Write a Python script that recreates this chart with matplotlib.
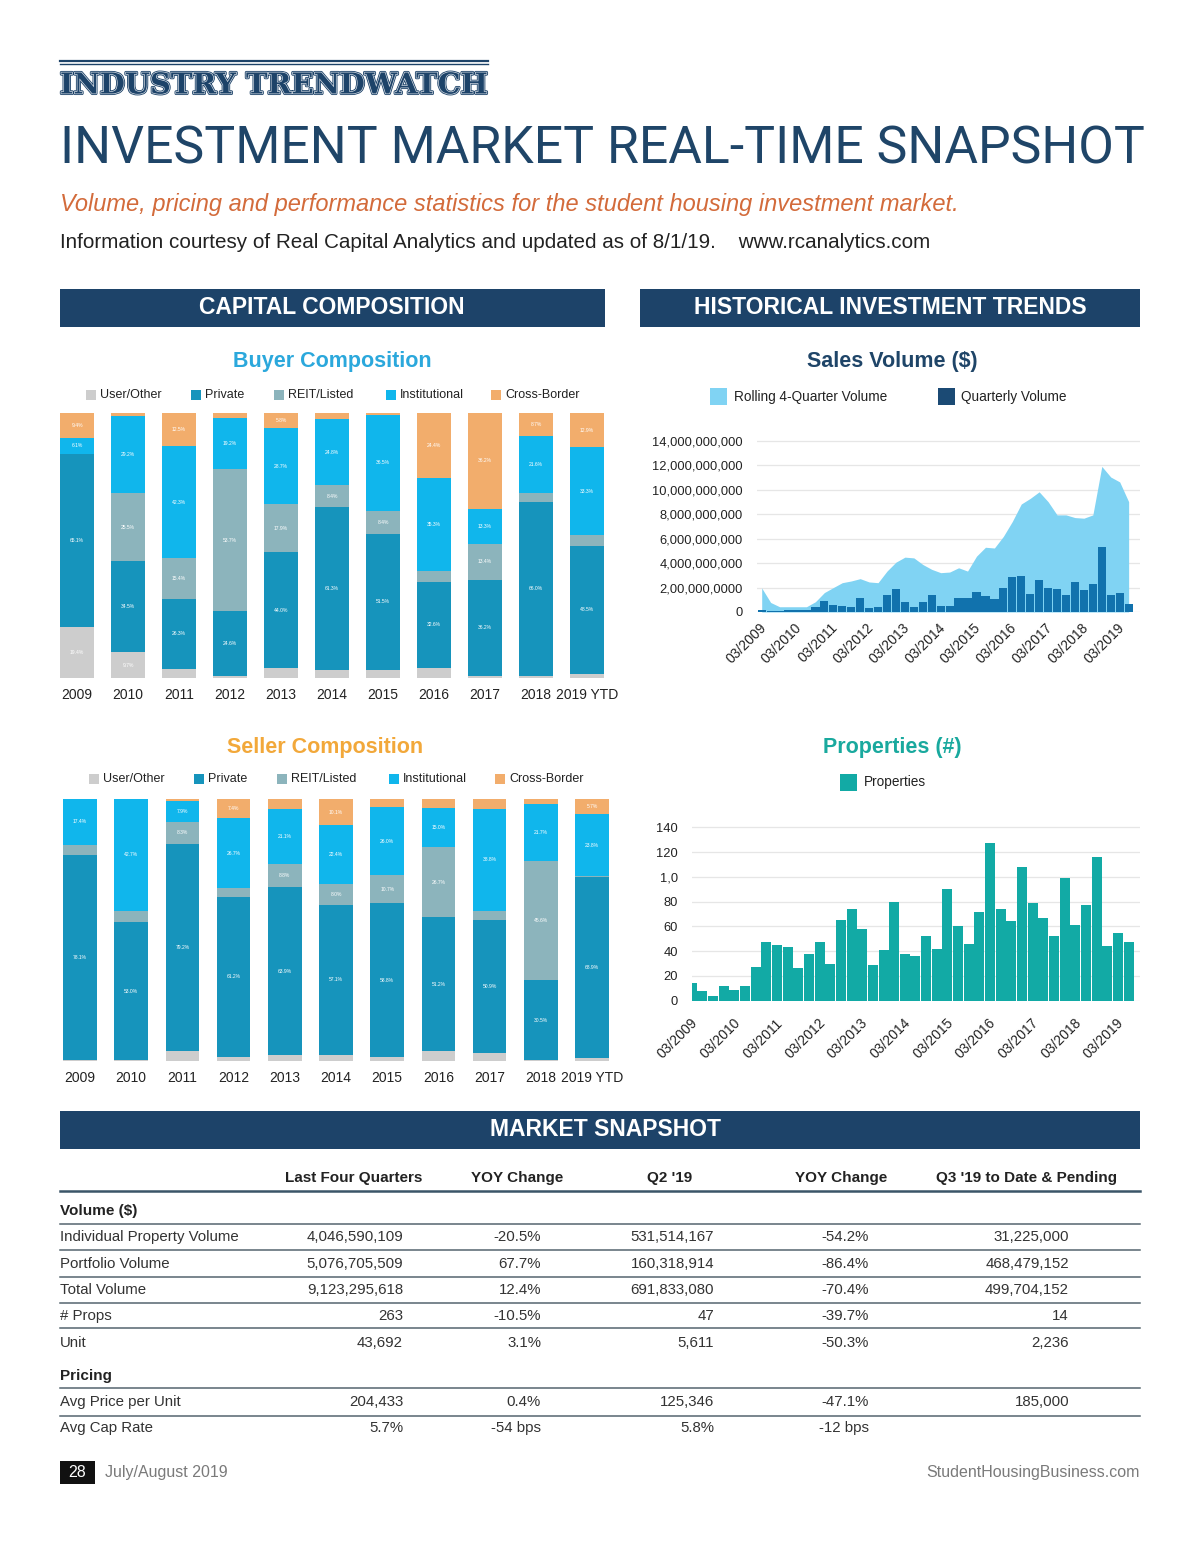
import matplotlib
matplotlib.use('Agg')
import matplotlib.pyplot as plt
from matplotlib.patches import Rectangle
from matplotlib.lines import Line2D
import matplotlib.patheffects as pe
import matplotlib.transforms as mtransforms
from matplotlib import font_manager
import numpy as np

# ---------------- DATA ----------------
years = ["2009", "2010", "2011", "2012", "2013", "2014", "2015", "2016", "2017", "2018", "2019 YTD"]
categories = ["User/Other", "Private", "REIT/Listed", "Institutional", "Cross-Border"]

buyer_user = [19.4, 9.7, 3.5, 0.6, 3.6, 3.1, 3.0, 3.8, 0.9, 0.6, 1.5]
buyer_private = [65.1, 34.5, 26.3, 24.6, 44.0, 61.3, 51.5, 32.6, 36.2, 66.0, 48.5]
buyer_reit = [0.0, 25.5, 15.4, 53.7, 17.9, 8.4, 8.4, 3.8, 13.4, 3.1, 3.8]
buyer_inst = [6.1, 29.2, 42.3, 19.2, 28.7, 24.8, 36.5, 35.3, 13.3, 21.6, 33.3]
buyer_cross = [9.4, 1.1, 12.5, 1.9, 5.8, 2.4, 0.6, 24.4, 36.2, 8.7, 12.9]

seller_user = [0.4, 0.2, 3.7, 1.5, 2.4, 2.4, 1.4, 3.7, 3.1, 0.3, 1.3]
seller_private = [78.1, 53.0, 79.2, 61.2, 63.9, 57.1, 58.8, 51.2, 50.9, 30.5, 68.9]
seller_reit = [4.1, 4.1, 8.3, 3.2, 8.8, 8.0, 10.7, 26.7, 3.4, 45.6, 0.3]
seller_inst = [17.4, 42.7, 7.9, 26.7, 21.1, 22.4, 26.0, 15.0, 38.8, 21.7, 23.8]
seller_cross = [0.0, 0.0, 0.9, 7.4, 3.8, 10.1, 3.1, 3.4, 3.8, 1.9, 5.7]

# quarterly, 03/2009 .. 06/2019 (billions of $)
quarterly_volume_bn = [0.16, 0.11, 0.05, 0.14, 0.19, 0.14, 0.38, 0.89, 0.57, 0.49, 0.43, 1.11,
                       0.30, 0.41, 1.38, 1.89, 0.78, 0.41, 0.84, 1.43, 0.49, 0.49, 1.14, 1.14,
                       1.65, 1.30, 1.03, 2.00, 2.84, 2.92, 1.46, 2.62, 2.00, 1.86, 1.43, 2.43,
                       1.78, 2.32, 5.35, 1.41, 1.57, 0.65]
rolling_volume_bn = [1.97, 0.78, 0.43, 0.43, 0.43, 0.43, 0.84, 1.59, 2.00, 2.40, 2.54, 2.73,
                     2.46, 2.40, 3.35, 4.08, 4.49, 4.43, 3.89, 3.49, 3.22, 3.27, 3.62, 3.35,
                     4.57, 5.30, 5.24, 6.19, 7.41, 8.84, 9.30, 9.84, 9.03, 7.95, 7.95, 7.73,
                     7.68, 7.95, 11.92, 11.05, 10.65, 9.03]
properties = [14, 8, 4, 12, 9, 12, 27, 47, 45, 43, 26, 38, 47, 30, 65, 74, 58, 29, 41, 80, 38,
              36, 52, 42, 90, 60, 46, 72, 127, 74, 64, 108, 79, 67, 52, 99, 61, 77, 116, 44, 55, 47]
quarter_ticks = ["03/2009", "03/2010", "03/2011", "03/2012", "03/2013", "03/2014",
                 "03/2015", "03/2016", "03/2017", "03/2018", "03/2019"]
sales_ytick_labels = ["0", "2,00,000,0000", "4,000,000,000", "6,000,000,000", "8,000,000,000",
                      "10,000,000,000", "12,000,000,000", "14,000,000,000"]
prop_ytick_labels = ["0", "20", "40", "60", "80", "1,0", "120", "140"]

table_cols = ["Last Four Quarters", "YOY Change", "Q2 '19", "YOY Change", "Q3 '19 to Date & Pending"]
volume_rows = [
    ["Individual Property Volume", "4,046,590,109", "-20.5%", "531,514,167", "-54.2%", "31,225,000"],
    ["Portfolio Volume", "5,076,705,509", "67.7%", "160,318,914", "-86.4%", "468,479,152"],
    ["Total Volume", "9,123,295,618", "12.4%", "691,833,080", "-70.4%", "499,704,152"],
    ["# Props", "263", "-10.5%", "47", "-39.7%", "14"],
    ["Unit", "43,692", "3.1%", "5,611", "-50.3%", "2,236"],
]
pricing_rows = [
    ["Avg Price per Unit", "204,433", "0.4%", "125,346", "-47.1%", "185,000"],
    ["Avg Cap Rate", "5.7%", "-54 bps", "5.8%", "-12 bps", ""],
]

# ---------------- STYLE ----------------
names = {f.name for f in font_manager.fontManager.ttflist}
SANS = 'Liberation Sans'
NARROW = 'Liberation Sans Narrow' if 'Liberation Sans Narrow' in names else 'Liberation Sans'
TITLEF = 'Roboto' if 'Roboto' in names else SANS
plt.rcParams['font.family'] = [SANS, 'DejaVu Sans']

NAVY = '#1d4369'
C_USER = '#cdcdcd'
C_PRIV = '#1694bc'
C_REIT = '#8cb4bc'
C_INST = '#10b6ec'
C_CROSS = '#f2ad6c'
cat_colors = [C_USER, C_PRIV, C_REIT, C_INST, C_CROSS]
C_AREA = '#80d3f3'
C_QBAR = '#1172ad'
C_QLEG = '#1b4a74'
C_PROP = '#12aaa5'
GRID = '#e6e6e6'
TXT = '#222222'

W, H = 1200, 1541
fig = plt.figure(figsize=(W / 100, H / 100), dpi=100)
fig.patch.set_facecolor('white')


def X(px):
    return px / W


def Y(py):
    return 1 - py / H


def rect(l, t, r, b, color):
    fig.add_artist(Rectangle((X(l), Y(b)), (r - l) / W, (b - t) / H, transform=fig.transFigure,
                             facecolor=color, edgecolor='none'))


def hline(x0, x1, y, color, lw):
    fig.add_artist(Line2D([X(x0), X(x1)], [Y(y), Y(y)], transform=fig.transFigure, color=color, lw=lw))


def text(x, y, s, **kw):
    kw.setdefault('va', 'center')
    return fig.text(X(x), Y(y), s, **kw)


def fit(t, width_px):
    r = fig.canvas.get_renderer()
    for _ in range(4):
        w = t.get_window_extent(renderer=r).width
        t.set_fontsize(t.get_fontsize() * width_px / w)


def axes_px(l, t, r, b):
    return fig.add_axes([X(l), Y(b), (r - l) / W, (b - t) / H])


# ---------------- HEADER ----------------
hline(60, 488, 60.5, NAVY, 1.6)
hline(60, 488, 64, NAVY, 1.0)
t = text(60, 85, "INDUSTRY TRENDWATCH", ha='left', fontsize=22, fontweight='bold',
         family=['DejaVu Serif'], color=NAVY,
         path_effects=[pe.Stroke(linewidth=2.2, foreground=NAVY), pe.Stroke(linewidth=1.0, foreground='#d3dae2'),
                       pe.Normal()])
fit(t, 427)

t = text(60, 150, "INVESTMENT MARKET REAL-TIME SNAPSHOT", ha='left', fontsize=40, color='#1f4568',
         family=[TITLEF, SANS], fontweight='normal')
fit(t, 1085)
t = text(60, 205, "Volume, pricing and performance statistics for the student housing investment market.",
         ha='left', fontsize=18, style='italic', color='#d36b3b', family=[NARROW, SANS])
fit(t, 897)
t = text(60, 242, "Information courtesy of Real Capital Analytics and updated as of 8/1/19.    www.rcanalytics.com",
         ha='left', fontsize=13, color=TXT, family=[NARROW, SANS])
fit(t, 871)

# section headers
rect(60, 289, 605, 327, NAVY)
text(332, 308, "CAPITAL COMPOSITION", ha='center', color='white', fontsize=16.5, fontweight='bold')
rect(640, 289, 1140, 327, NAVY)
text(890, 308, "HISTORICAL INVESTMENT TRENDS", ha='center', color='white', fontsize=16.5, fontweight='bold')
rect(60, 1111, 1140, 1149, NAVY)
text(606, 1130, "MARKET SNAPSHOT", ha='center', color='white', fontsize=16.5, fontweight='bold')

# ---------------- STACKED BARS ----------------


def legend_row(y, xs, labels, colors, size=10, fs=9):
    for x, lab, c in zip(xs, labels, colors):
        rect(x, y - size / 2, x + size, y + size / 2, c)
        text(x + size + 4, y, lab, ha='left', fontsize=fs, color=TXT)


def stacked(l, t, r, b, c0, step, series):
    ax = axes_px(l, t, r, b)
    x = np.arange(len(years))
    bottom = np.zeros(len(years))
    for vals, col in zip(series, cat_colors):
        vals = np.array(vals)
        ax.bar(x, vals, 0.66, bottom=bottom, color=col, linewidth=0)
        for i, v in enumerate(vals):
            if v >= 5:
                ax.text(x[i], bottom[i] + v / 2, f"{v:.1f}%", ha='center', va='center',
                        fontsize=3.6, color='white')
        bottom += vals
    ax.set_ylim(0, 100)
    ax.set_xlim((l - c0) / step, (r - c0) / step)
    for s in ax.spines.values():
        s.set_visible(False)
    ax.set_yticks([])
    ax.set_xticks(x)
    ax.set_xticklabels(years, fontsize=10, color=TXT)
    ax.tick_params(axis='x', length=0, pad=7)
    return ax


text(332, 361, "Buyer Composition", ha='center', fontsize=15.5, fontweight='bold', color='#2ba8dc')
legend_row(395, [86, 191, 274, 386, 491], categories, cat_colors)
stacked(55, 413, 610, 678, 77, 51.0,
        [buyer_user, buyer_private, buyer_reit, buyer_inst, buyer_cross])

text(325, 748, "Seller Composition", ha='center', fontsize=15.5, fontweight='bold', color='#f2a83a')
legend_row(779, [89, 194, 277, 389, 495], categories, cat_colors)
stacked(55, 799, 615, 1061, 80, 51.2,
        [seller_user, seller_private, seller_reit, seller_inst, seller_cross])

# ---------------- SALES VOLUME ----------------
text(892, 361, "Sales Volume ($)", ha='center', fontsize=15.5, fontweight='bold', color='#1f4568')
rect(710, 388, 727, 405, C_AREA)
text(734, 397, "Rolling 4-Quarter Volume", ha='left', fontsize=9.8, color=TXT)
rect(938, 388, 955, 405, C_QLEG)
text(961, 397, "Quarterly Volume", ha='left', fontsize=9.8, color=TXT)

nq = len(quarterly_volume_bn)
xq = np.arange(nq)
c0, step = 761.7, 8.95
ax = axes_px(757, 438, 1140, 612)
ax.fill_between(xq, 0, np.array(rolling_volume_bn) * 1e9, color=C_AREA, linewidth=0, zorder=1)
ax.bar(xq, np.array(quarterly_volume_bn) * 1e9, 0.92, color=C_QBAR, linewidth=0, zorder=2)
ax.set_xlim((757 - c0) / step, (1140 - c0) / step)
ax.set_ylim(0, 14e9 * (612 - 438) / (612 - 441))
ax.set_yticks(np.arange(0, 14.1e9, 2e9))
ax.set_yticklabels(sales_ytick_labels, fontsize=9.3, color=TXT)
ax.yaxis.grid(True, color=GRID, lw=0.9, zorder=0)
ax.set_axisbelow(True)
ax.set_xticks(np.arange(0, nq, 4))
ax.set_xticklabels(quarter_ticks, rotation=45, ha='right', rotation_mode='anchor', fontsize=10, color=TXT)
ax.tick_params(axis='both', length=0)
ax.tick_params(axis='y', pad=10)
ax.tick_params(axis='x', pad=6)
for s in ax.spines.values():
    s.set_visible(False)
off = mtransforms.ScaledTranslation(-2 / 72, 0, fig.dpi_scale_trans)
for lab in ax.get_xticklabels():
    lab.set_transform(lab.get_transform() + off)

# ---------------- PROPERTIES ----------------
text(892, 748, "Properties (#)", ha='center', fontsize=15.5, fontweight='bold', color='#19a99e')
rect(840, 774, 857, 791, C_PROP)
text(864, 782, "Properties", ha='left', fontsize=9.8, color=TXT)

np_ = len(properties)
xp = np.arange(np_)
c0p, stepp = 690.3, 10.69
ax2 = axes_px(691.7, 825, 1140, 1000.7)
ax2.bar(xp, properties, 0.94, color=C_PROP, linewidth=0, zorder=2)
ax2.set_xlim((691.7 - c0p) / stepp, (1140 - c0p) / stepp)
ax2.set_ylim(0, 140 * (1000.7 - 825) / (1000.7 - 827.3))
ax2.set_yticks(np.arange(0, 141, 20))
ax2.set_yticklabels(prop_ytick_labels, fontsize=9.3, color=TXT)
ax2.yaxis.grid(True, color=GRID, lw=0.9, zorder=0)
ax2.set_axisbelow(True)
ax2.set_xticks(np.arange(0, np_, 4))
ax2.set_xticklabels(quarter_ticks, rotation=45, ha='right', rotation_mode='anchor', fontsize=10, color=TXT)
ax2.tick_params(axis='both', length=0)
ax2.tick_params(axis='y', pad=10)
ax2.tick_params(axis='x', pad=11)
for s in ax2.spines.values():
    s.set_visible(False)
off2 = mtransforms.ScaledTranslation(-1 / 72, 0, fig.dpi_scale_trans)
for lab in ax2.get_xticklabels():
    lab.set_transform(lab.get_transform() + off2)

# ---------------- TABLE ----------------
col_centers = [353.5, 517, 670, 841, 1026.5]
val_right = [403, 541, 714, 869, 1069]
for cx, h in zip(col_centers, table_cols):
    text(cx, 1178, h, ha='center', fontsize=11, fontweight='bold', color=TXT)
hline(60, 1140, 1191, '#3b5568', 1.8)

text(60, 1211, "Volume ($)", ha='left', fontsize=11, fontweight='bold', color=TXT)
hline(60, 1140, 1224, '#55656f', 1.1)
row_y = [1237, 1264, 1290, 1316, 1343]
line_y = [1250, 1277, 1303, 1328, None]
for yy, ly, row in zip(row_y, line_y, volume_rows):
    text(60, yy, row[0], ha='left', fontsize=10.8, color='#333333')
    for xr, v in zip(val_right, row[1:]):
        text(xr, yy, v, ha='right', fontsize=10.8, color='#333333')
    if ly:
        hline(60, 1140, ly, '#55656f', 1.1)

text(60, 1376, "Pricing", ha='left', fontsize=11, fontweight='bold', color=TXT)
hline(60, 1140, 1388, '#55656f', 1.1)
row_y = [1402, 1428]
line_y = [1416, None]
for yy, ly, row in zip(row_y, line_y, pricing_rows):
    text(60, yy, row[0], ha='left', fontsize=10.8, color='#333333')
    for xr, v in zip(val_right, row[1:]):
        text(xr, yy, v, ha='right', fontsize=10.8, color='#333333')
    if ly:
        hline(60, 1140, ly, '#55656f', 1.1)

# ---------------- FOOTER ----------------
rect(60, 1461, 95, 1484, '#111111')
text(77.5, 1472.5, "28", ha='center', fontsize=11.5, color='white')
text(105, 1472.5, "July/August 2019", ha='left', fontsize=11.5, color='#7a7a7a')
text(1140, 1472.5, "StudentHousingBusiness.com", ha='right', fontsize=11.5, color='#7a7a7a')

fig.savefig('out.png', dpi=100, facecolor='white')
